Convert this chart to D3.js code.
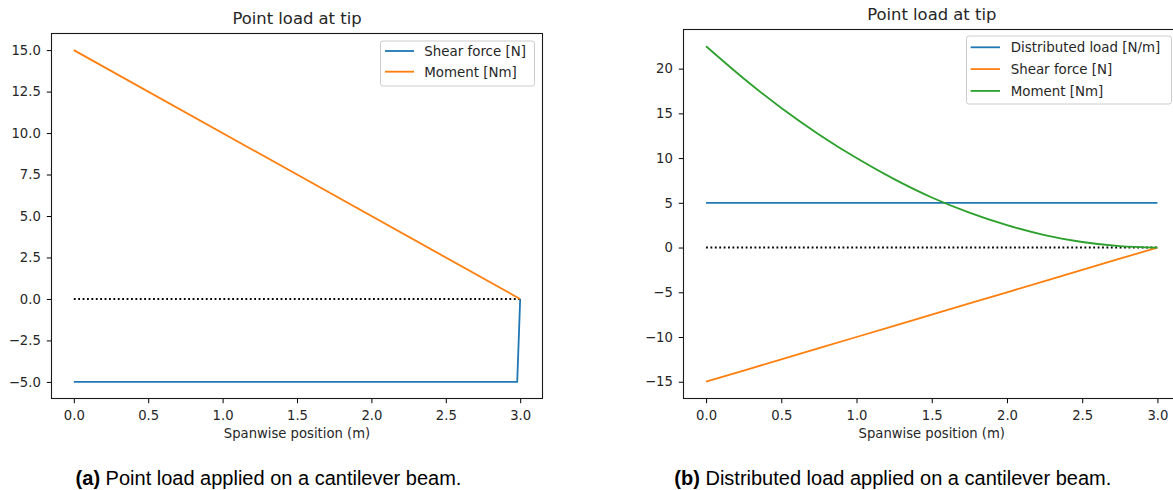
<!DOCTYPE html>
<html><head><meta charset="utf-8">
<script src="https://cdn.jsdelivr.net/npm/d3@7"></script>
<style>
body{margin:0;background:#fff}
svg{display:block}
text{font-family:"DejaVu Sans",sans-serif;fill:#262626}
.cap{font-family:"Liberation Sans",Arial,sans-serif;fill:#000}
</style>
</head><body>
<svg id="c" width="1173" height="490"></svg>
<script>
// ---------- data ----------
const xTickValues = [0, 0.5, 1.0, 1.5, 2.0, 2.5, 3.0];
const leftYTicks = [-5, -2.5, 0, 2.5, 5, 7.5, 10, 12.5, 15];
const rightYTicks = [-15, -10, -5, 0, 5, 10, 15, 20];

// (a) point load at tip
const pointX = [0, 2.98, 3.0];
const pointShear = [-5, -5, 0];
const pointMomentX = [0, 3.0];
const pointMoment = [15, 0];

// (b) distributed load
const distX = [0, 0.25, 0.5, 0.75, 1.0, 1.25, 1.5, 1.75, 2.0, 2.25, 2.5, 2.75, 3.0];
const distLoad = [5, 5, 5, 5, 5, 5, 5, 5, 5, 5, 5, 5, 5];
const distShear = [-15, -13.75, -12.5, -11.25, -10, -8.75, -7.5, -6.25, -5, -3.75, -2.5, -1.25, 0];
const distMoment = [22.5, 18.9, 15.6, 12.65, 10.0, 7.65, 5.6, 3.9, 2.5, 1.4, 0.62, 0.16, 0];

const zeroX = [0, 3.0];
const zeroY = [0, 0];

const panelTitles = ["Point load at tip", "Point load at tip"];
const xAxisLabel = "Spanwise position (m)";
const legendA = ["Shear force [N]", "Moment [Nm]"];
const legendB = ["Distributed load [N/m]", "Shear force [N]", "Moment [Nm]"];
const captionTags = ["(a)", "(b)"];
const captionTexts = [" Point load applied on a cantilever beam.", " Distributed load applied on a cantilever beam."];

const C = {blue: "#1f77b4", orange: "#ff7f0e", green: "#2ca02c"};

const svg = d3.select("#c");
svg.append("rect").attr("width", 1173).attr("height", 490).attr("fill", "#fff");

function panel(cfg) {
  const x = d3.scaleLinear().domain([-0.15, 3.15]).range([cfg.left, cfg.right]);
  const y = d3.scaleLinear().domain(cfg.yDomain).range([cfg.bottom, cfg.top]);
  const g = svg.append("g");

  const line = d3.line().x(d => x(d[0])).y(d => y(d[1]));

  // zero dotted line
  g.append("path").datum(d3.zip(zeroX, zeroY)).attr("d", d3.line().x(d => x(d[0])).y(d => y(d[1])))
    .attr("fill", "none").attr("stroke", "#000").attr("stroke-width", 1.9).attr("stroke-dasharray", "1.8,2.6");

  cfg.series.forEach(s => {
    g.append("path").datum(d3.zip(s.x, s.y)).attr("d", line.curve(s.curve || d3.curveLinear))
      .attr("fill", "none").attr("stroke", s.color).attr("stroke-width", 1.8)
      .attr("stroke-linejoin", "round");
  });

  // axes
  const xa = g.append("g").attr("transform", `translate(0,${cfg.bottom})`)
    .call(d3.axisBottom(x).tickValues(xTickValues).tickFormat(d3.format(".1f")).tickSizeInner(4.7).tickSizeOuter(0).tickPadding(7.3));
  const ya = g.append("g").attr("transform", `translate(${cfg.left},0)`)
    .call(d3.axisLeft(y).tickValues(cfg.yTicks).tickFormat(cfg.yFormat).tickSizeInner(4.7).tickSizeOuter(0).tickPadding(6));
  [xa, ya].forEach(a => {
    a.select(".domain").remove();
    a.selectAll(".tick line").attr("stroke", "#000").attr("stroke-width", 1);
    a.selectAll(".tick text").style("font-family", "DejaVu Sans").style("font-size", "13.2px").attr("fill", "#262626");
  });

  // spines
  g.append("rect").attr("x", cfg.left).attr("y", cfg.top)
    .attr("width", cfg.right - cfg.left).attr("height", cfg.bottom - cfg.top)
    .attr("fill", "none").attr("stroke", "#1a1a1a").attr("stroke-width", 1.1);

  // title and x label
  const cx = (cfg.left + cfg.right) / 2;
  g.append("text").attr("x", cx).attr("y", cfg.top - 9.5).attr("text-anchor", "middle")
    .style("font-size", "16.4px").text(cfg.title);
  g.append("text").attr("x", cx).attr("y", 437.5).attr("text-anchor", "middle")
    .style("font-size", "13.2px").text(xAxisLabel);

  // legend
  const L = cfg.legend;
  g.append("rect").attr("x", L.x0).attr("y", L.y0).attr("width", L.x1 - L.x0).attr("height", L.y1 - L.y0)
    .attr("rx", 2.5).attr("fill", "#fff").attr("fill-opacity", 0.8).attr("stroke", "#cccccc").attr("stroke-width", 1);
  L.labels.forEach((lab, i) => {
    const yy = L.row0 + i * L.dy;
    g.append("line").attr("x1", L.lx0).attr("x2", L.lx1).attr("y1", yy).attr("y2", yy)
      .attr("stroke", L.colors[i]).attr("stroke-width", 1.8);
    g.append("text").attr("x", L.tx).attr("y", yy).attr("dy", "0.36em")
      .style("font-size", "13.4px").text(lab);
  });

  // caption
  const cap = svg.append("text").attr("class", "cap").attr("x", cfg.capX).attr("y", 484.5)
    .attr("text-anchor", "middle").style("font-size", "20px");
  cap.append("tspan").style("font-weight", "bold").text(cfg.capTag);
  cap.append("tspan").text(cfg.capText);
}

panel({
  left: 51.5, right: 542.5, top: 33.5, bottom: 398.5,
  yDomain: [-6, 16], yTicks: leftYTicks, yFormat: d3.format(".1f"),
  title: panelTitles[0],
  series: [
    {x: pointX, y: pointShear, color: C.blue},
    {x: pointMomentX, y: pointMoment, color: C.orange}
  ],
  legend: {x0: 380.5, x1: 534.5, y0: 41, y1: 86, row0: 51, dy: 20.7, lx0: 385, lx1: 414, tx: 424.3,
    labels: legendA, colors: [C.blue, C.orange]},
  capX: 268.5, capTag: captionTags[0], capText: captionTexts[0]
});

panel({
  left: 683.5, right: 1180, top: 29.5, bottom: 398.5,
  yDomain: [-16.875, 24.375], yTicks: rightYTicks, yFormat: d3.format("d"),
  title: panelTitles[1],
  series: [
    {x: distX, y: distLoad, color: C.blue},
    {x: distX, y: distShear, color: C.orange},
    {x: distX, y: distMoment, color: C.green, curve: d3.curveMonotoneX}
  ],
  legend: {x0: 966.5, x1: 1171.5, y0: 36, y1: 104, row0: 47.3, dy: 21.8, lx0: 970.7, lx1: 1000, tx: 1010.7,
    labels: legendB, colors: [C.blue, C.orange, C.green]},
  capX: 892.8, capTag: captionTags[1], capText: captionTexts[1]
});
</script>
</body></html>
